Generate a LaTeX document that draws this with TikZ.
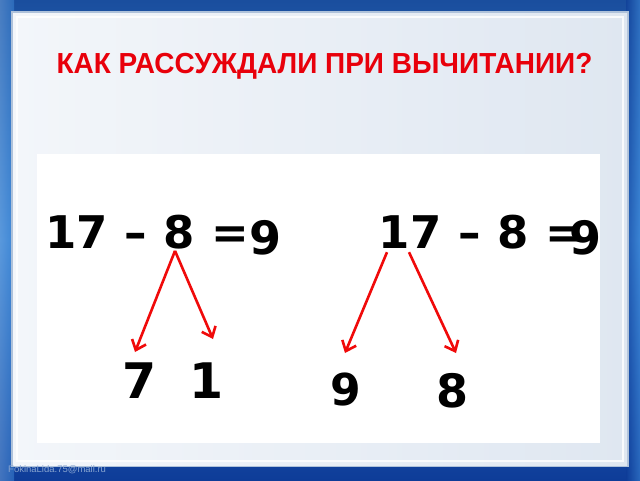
\documentclass[tikz,border=0pt]{standalone}
\usepackage{fontspec}
\usetikzlibrary{arrows.meta}
\newfontfamily\dvs{DejaVu Sans}
\newfontfamily\lsans{Liberation Sans}
\definecolor{bgtop}{HTML}{1A4E9E}
\definecolor{bgmid}{HTML}{3C86D6}
\definecolor{bgbot}{HTML}{0E3C98}
\definecolor{panelA}{HTML}{F3F6FA}
\definecolor{panelB}{HTML}{DFE7F1}
\definecolor{rim}{HTML}{AFC2DA}
\definecolor{titlered}{HTML}{E8000B}
\definecolor{arrred}{HTML}{F00A0A}
\definecolor{footc}{HTML}{86A3CF}
\tikzset{
  num/.style={font=\dvs\bfseries\fontsize{45}{50}\selectfont, inner sep=0pt, text=black},
  big/.style={font=\dvs\bfseries\fontsize{#1}{#1}\selectfont, inner sep=0pt, text=black},
  arr/.style={draw=arrred, line width=2.6pt, -{Straight Barb[length=9pt,width=15pt]}},
  titlestyle/.style={font=\lsans\bfseries\fontsize{29}{32}\selectfont, text=titlered, inner sep=0pt, xscale=0.965}
}
\begin{document}
\begin{tikzpicture}[x=1pt,y=-1pt]
\useasboundingbox (0,0) rectangle (640,480);
% background
\shade[top color=bgtop, bottom color=bgbot, middle color=bgmid] (0,0) rectangle (640,480);
\shade[left color=bgmid!70!white, right color=bgmid, opacity=0.5] (0,0) rectangle (14,480);
\shade[left color=bgbot, right color=bgmid, opacity=0.6] (626,0) rectangle (640,480);
% panel
\fill[rim] (11,11) rectangle (629,467);
\shade[left color=panelA, right color=panelB] (13,13) rectangle (627,465);
\draw[white, line width=1.2pt, opacity=0.8] (17,17) rectangle (623,461);
% white box
\fill[white] (37,154) rectangle (600,443);
% title
\node[titlestyle, anchor=base] (title) at (324.5,73) {КАК РАССУЖДАЛИ ПРИ ВЫЧИТАНИИ?};
% left equation
\node[num, anchor=base] (l17) at (76.5,248) {17};
\node[num, anchor=base] (ldash) at (136,248) {–};
\node[num, anchor=base] (l8) at (179,248) {8};
\node[num, anchor=base] (leq) at (230,248) {=};
\node[big=46, anchor=base] (l9) at (266,254) {9};
\node[big=49, anchor=base] (l7) at (140,398) {7};
\node[big=49, anchor=base] (l1) at (206.5,398) {1};
% right equation
\node[num, anchor=base] (r17) at (410,248) {17};
\node[num, anchor=base] (rdash) at (470,248) {–};
\node[num, anchor=base] (r8) at (513.5,248) {8};
\node[num, anchor=base] (req) at (564,248) {=};
\node[big=46, anchor=base] (r9) at (585,254) {9};
\node[big=44, anchor=base] (rb9) at (346,405) {9};
\node[big=46, anchor=base] (rb8) at (452.5,407) {8};
% arrow tips
\coordinate (tipl7) at (135,352);
\coordinate (tipl1) at (213,339);
\coordinate (tipr9) at (345,353);
\coordinate (tipr8) at (456,353);
\draw[arr] ([xshift=-4pt,yshift=-2pt]l8.south) -- (tipl7);
\draw[arr] ([xshift=-4pt,yshift=-2pt]l8.south) -- (tipl1);
\draw[arr] ([xshift=-23pt,yshift=-4pt]r17.south) -- (tipr9);
\draw[arr] ([xshift=-1pt,yshift=-4pt]r17.south) -- (tipr8);
% footer
\node[font=\lsans\fontsize{9.5}{11}\selectfont, text=footc, anchor=west, inner sep=0pt] (foot) at (8,470) {FokinaLida.75@mail.ru};
\end{tikzpicture}
\end{document}
